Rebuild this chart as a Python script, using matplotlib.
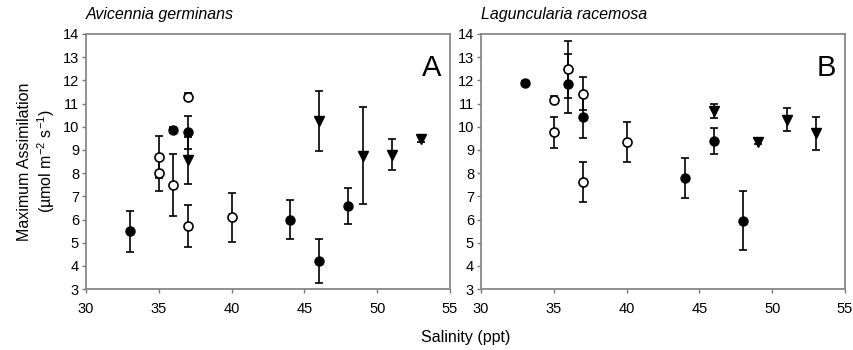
import matplotlib
matplotlib.use("Agg")
import matplotlib.pyplot as plt

plt.rcParams['font.family'] = ['Liberation Sans', 'DejaVu Sans']
plt.rcParams['mathtext.fontset'] = 'custom'
plt.rcParams['mathtext.rm'] = 'Liberation Sans'

# Panel A: Avicennia germinans
a_fill_x = [33, 36, 37, 44, 46, 48]
a_fill_y = [5.5, 9.85, 9.76, 6.0, 4.2, 6.6]
a_fill_e = [0.88, 0.12, 0.72, 0.82, 0.95, 0.78]

a_open_x = [35, 35, 36, 37, 37, 40]
a_open_y = [8.7, 8.0, 7.5, 11.3, 5.72, 6.1]
a_open_e = [0.9, 0.75, 1.33, 0.15, 0.92, 1.05]

a_tri_x = [37, 46, 49, 51, 53]
a_tri_y = [8.55, 10.25, 8.75, 8.8, 9.45]
a_tri_e = [1.0, 1.3, 2.1, 0.65, 0.1]

# Panel B: Laguncularia racemosa
b_fill_x = [33, 36, 37, 44, 46, 48]
b_fill_y = [11.88, 11.85, 10.4, 7.78, 9.38, 5.95]
b_fill_e = [0.08, 1.27, 0.9, 0.86, 0.57, 1.27]

b_open_x = [35, 35, 36, 37, 37, 40]
b_open_y = [11.17, 9.77, 12.47, 11.43, 7.62, 9.35]
b_open_e = [0.15, 0.67, 1.24, 0.7, 0.85, 0.87]

b_tri_x = [46, 49, 51, 53]
b_tri_y = [10.68, 9.35, 10.3, 9.71]
b_tri_e = [0.3, 0.1, 0.5, 0.73]

x_ticks = [30, 35, 40, 45, 50, 55]
y_ticks = list(range(3, 15))

fig = plt.figure(figsize=(8.54, 3.5), dpi=100)
axA = fig.add_axes([0.1007, 0.174, 0.4262, 0.729])
axB = fig.add_axes([0.5632, 0.174, 0.4262, 0.729])

def draw(ax, fx, fy, fe, ox, oy, oe, tx, ty, te, title, letter):
    kw = dict(ecolor='black', elinewidth=1.2, capsize=3, capthick=1.2, linestyle='none')
    ax.errorbar(tx, ty, yerr=te, marker='v', markersize=6.5, mfc='black', mec='black', **kw)
    ax.errorbar(fx, fy, yerr=fe, marker='o', markersize=6.5, mfc='black', mec='black', **kw)
    ax.errorbar(ox, oy, yerr=oe, marker='o', markersize=6.5, mfc='white', mec='black', mew=1.2, **kw)
    ax.set_xlim(30, 55)
    ax.set_ylim(3, 14)
    ax.set_xticks(x_ticks)
    ax.set_yticks(y_ticks)
    ax.tick_params(direction='out', length=3, width=1, color='#777777', labelsize=10.5)
    ax.tick_params(axis='x', pad=6)
    ax.tick_params(axis='y', pad=2)
    for s in ax.spines.values():
        s.set_color('#888888')
        s.set_linewidth(1.3)
    ax.text(0.0, 1.045, title, transform=ax.transAxes, style='italic', fontsize=11.5,
            ha='left', va='bottom')
    ax.text(0.975, 0.92, letter, transform=ax.transAxes, fontsize=21, ha='right', va='top')

draw(axA, a_fill_x, a_fill_y, a_fill_e, a_open_x, a_open_y, a_open_e,
     a_tri_x, a_tri_y, a_tri_e, 'Avicennia germinans', 'A')
draw(axB, b_fill_x, b_fill_y, b_fill_e, b_open_x, b_open_y, b_open_e,
     b_tri_x, b_tri_y, b_tri_e, 'Laguncularia racemosa', 'B')

axA.set_ylabel('Maximum Assimilation\n(\u00b5mol m$^{-2}$ s$^{-1}$)', fontsize=11.5, labelpad=4)
fig.text(0.545, 0.035, 'Salinity (ppt)', ha='center', va='center', fontsize=11.5)

fig.savefig('out.png', dpi=100)
